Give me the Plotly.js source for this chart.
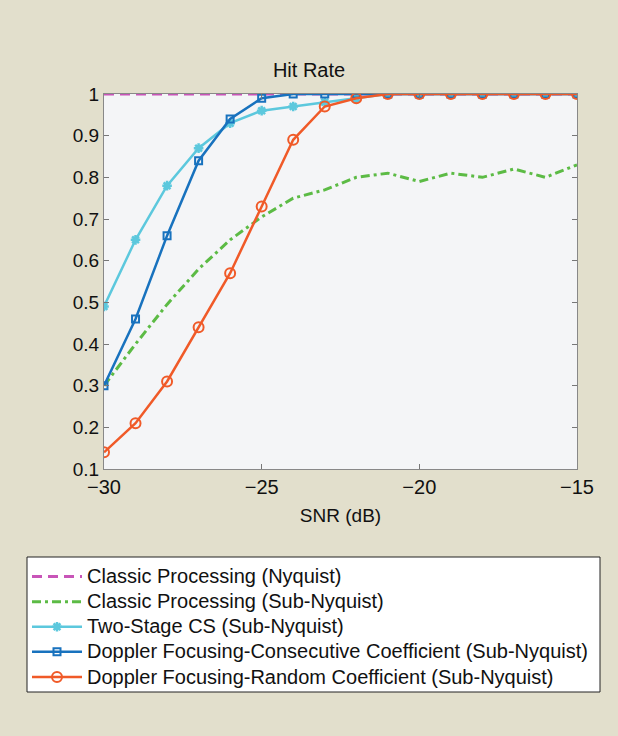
<!DOCTYPE html>
<html>
<head>
<meta charset="utf-8">
<script src="https://cdn.plot.ly/plotly-3.0.1.min.js"></script>
<style>
html,body{margin:0;padding:0;background:#e2dfcc;}
#chart{width:618px;height:736px;}
#chart .legendtext{font-size:20px !important;}
#chart .legend .scrollbox, #chart .legend g{clip-path:none !important;}
</style>
</head>
<body>
<div id="chart"></div>
<script>
const snr = [-30,-29,-28,-27,-26,-25,-24,-23,-22,-21,-20,-19,-18,-17,-16,-15];
const classicNyquist = [1,1,1,1,1,1,1,1,1,1,1,1,1,1,1,1];
const classicSubNyquist = [0.30,0.40,0.495,0.58,0.65,0.705,0.75,0.77,0.80,0.81,0.79,0.81,0.80,0.82,0.80,0.83];
const twoStageCS = [0.49,0.65,0.78,0.87,0.93,0.96,0.97,0.98,0.99,1,1,1,1,1,1,1];
const dopplerConsecutive = [0.30,0.46,0.66,0.84,0.94,0.99,1,1,1,1,1,1,1,1,1,1];
const dopplerRandom = [0.14,0.21,0.31,0.44,0.57,0.73,0.89,0.97,0.99,1,1,1,1,1,1,1];
const seriesNames = [
  'Classic Processing (Nyquist)',
  'Classic Processing (Sub-Nyquist)',
  'Two-Stage CS (Sub-Nyquist)',
  'Doppler Focusing-Consecutive Coefficient (Sub-Nyquist)',
  'Doppler Focusing-Random Coefficient (Sub-Nyquist)'
];
const yTicks = [0.1,0.2,0.3,0.4,0.5,0.6,0.7,0.8,0.9,1];
const yTickText = ['0.1','0.2','0.3','0.4','0.5','0.6','0.7','0.8','0.9','1'];
const xTicks = [-30,-25,-20,-15];

const traces = [
  {x: snr, y: classicNyquist, name: seriesNames[0], mode: 'lines',
   line: {color: '#c855b8', width: 3, dash: '10px,6px'}},
  {x: snr, y: classicSubNyquist, name: seriesNames[1], mode: 'lines',
   line: {color: '#5cbb45', width: 3, dash: '9px,4px,3px,4px'}},
  {x: snr, y: twoStageCS, name: seriesNames[2], mode: 'lines+markers',
   line: {color: '#5cc8dd', width: 2.5},
   marker: {symbol: 'asterisk-open', size: 8, color: '#5cc8dd', line: {color: '#5cc8dd', width: 2.5}}},
  {x: snr, y: dopplerConsecutive, name: seriesNames[3], mode: 'lines+markers',
   line: {color: '#1872be', width: 2.5},
   marker: {symbol: 'square-open', size: 7, color: '#1872be', line: {color: '#1872be', width: 2}}},
  {x: snr, y: dopplerRandom, name: seriesNames[4], mode: 'lines+markers',
   line: {color: '#f05a28', width: 2.5},
   marker: {symbol: 'circle-open', size: 10, color: '#f05a28', line: {color: '#f05a28', width: 2}}}
];

const fam = 'Liberation Sans, Arial, sans-serif';
const font = {family: fam, size: 20, color: '#111'};

// legend box (paper coordinates relative to plot area 104..577 x, 94..469 y)
const pw = 473, ph = 375;
const layout = {
  width: 618, height: 736,
  paper_bgcolor: '#e2dfcc',
  plot_bgcolor: '#f4f5f7',
  font: font,
  margin: {l: 104, r: 41, t: 94, b: 267},
  title: {text: 'Hit Rate', font: {family: fam, size: 20, color: '#111'},
          x: 0.5, xanchor: 'center', y: 1 - 70/736, yanchor: 'middle', yref: 'container'},
  xaxis: {
    range: [-30, -15], tickvals: xTicks, ticks: 'inside', ticklen: 5, tickcolor: '#777',
    showline: true, linecolor: '#888', linewidth: 1, mirror: 'ticks', showgrid: false, zeroline: false,
    title: {text: 'SNR (dB)', font: {family: fam, size: 19, color: '#111'}, standoff: 11},
    tickfont: {family: fam, size: 20, color: '#111'}
  },
  yaxis: {
    range: [0.1, 1], tickvals: yTicks, ticktext: yTickText, ticks: 'inside', ticklen: 5, tickcolor: '#777',
    showline: true, linecolor: '#888', linewidth: 1, mirror: 'ticks', showgrid: false, zeroline: false,
    tickfont: {family: fam, size: 19, color: '#111'}
  },
  shapes: [{
    type: 'rect', xref: 'paper', yref: 'paper', layer: 'above',
    x0: (27-104)/pw, x1: (600-104)/pw, y0: (469-557)/ph, y1: (469-692)/ph,
    fillcolor: '#ffffff', line: {color: '#222', width: 1}
  }],
  showlegend: true,
  legend: {
    x: (27-104)/pw, y: (469-559)/ph, xanchor: 'left', yanchor: 'top',
    bgcolor: 'rgba(0,0,0,0)', borderwidth: 0,
    font: {family: fam, size: 17, color: '#111'},
    itemwidth: 50, tracegroupgap: 0
  }
};

Plotly.newPlot('chart', traces, layout, {displayModeBar: false, staticPlot: true});
</script>
</body>
</html>
